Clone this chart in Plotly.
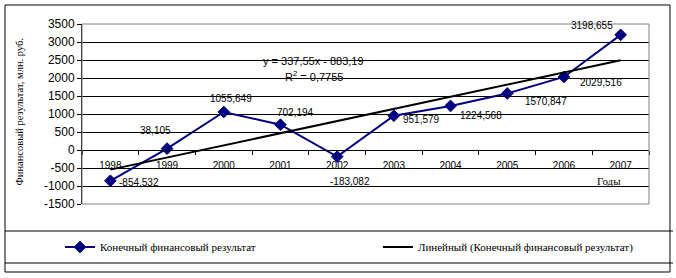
import numpy as np
import plotly.graph_objects as go

years = ["1998", "1999", "2000", "2001", "2002", "2003", "2004", "2005", "2006", "2007"]
result = [-854.532, 38.105, 1055.649, 702.194, -183.082, 951.579, 1224.568, 1570.847, 2029.516, 3198.655]
y_tick_vals = [-1500, -1000, -500, 0, 500, 1000, 1500, 2000, 2500, 3000, 3500]
y_tick_text = ["-1500", "-1000", "-500", "0", "500", "1000", "1500", "2000", "2500", "3000", "3500"]
series_name = "Конечный финансовый результат"
trend_name = "Линейный (Конечный финансовый результат)"
y_title = "Финансовый результат, млн. руб."
x_title = "Годы"

# label offsets (px) relative to each marker: (dx right, dy up)
label_offsets = [(29, -2), (-12, 18), (7, 14), (15, 12), (13, -25),
                 (28, -4), (30, -10), (39, -8), (37, -6), (-29, 9)]

# category positions 1..n
xi = np.arange(1, len(result) + 1)
# Linear trend (least squares, as the chart's trendline)
slope, intercept = np.polyfit(xi, result, 1)
trend = slope * xi + intercept
ss_res = np.sum((np.array(result) - trend) ** 2)
ss_tot = np.sum((np.array(result) - np.mean(result)) ** 2)
r2 = 1 - ss_res / ss_tot

def fmt(v, d):
    return f"{v:.{d}f}".replace(".", ",")

SANS = "Liberation Sans, Arial, sans-serif"
SERIF = "Liberation Serif, Times New Roman, serif"
NAVY = "#000080"

fig = go.Figure()
fig.add_trace(go.Scatter(
    x=xi, y=result, mode="lines+markers", name=series_name,
    line=dict(color=NAVY, width=2),
    marker=dict(symbol="diamond", size=9, color=NAVY, line=dict(color=NAVY, width=1)),
    legend="legend",
))
fig.add_trace(go.Scatter(
    x=xi, y=trend, mode="lines", name=trend_name,
    line=dict(color="#000000", width=2),
    legend="legend2",
))

annotations = []
for x, v, (dx, dy) in zip(xi, result, label_offsets):
    annotations.append(dict(
        x=int(x), y=v, xref="x", yref="y", text=fmt(v, 3), showarrow=False,
        xshift=dx, yshift=dy, font=dict(family=SANS, size=10, color="#000000"),
    ))

sign = "-" if intercept < 0 else "+"
annotations.append(dict(
    x=0.409, y=0.839, xref="paper", yref="paper", showarrow=False,
    text=f"y = {fmt(slope, 2)}x {sign} {fmt(abs(intercept), 2)}",
    font=dict(family=SANS, size=11, color="#000000"),
))
annotations.append(dict(
    x=0.409, y=0.761, xref="paper", yref="paper", showarrow=False,
    text=f"R<sup>2</sup> = {fmt(r2, 4)}",
    font=dict(family=SANS, size=11, color="#000000"),
))
annotations.append(dict(
    x=0.954, y=0.085, xref="paper", yref="paper", showarrow=False,
    text=x_title, font=dict(family=SERIF, size=11, color="#000000"),
))
annotations.append(dict(
    x=-0.1235, y=0.511, xref="paper", yref="paper", showarrow=False,
    text=y_title, textangle=-90, font=dict(family=SERIF, size=10.5, color="#000000"),
))

shapes = [
    dict(type="rect", xref="paper", yref="paper", x0=0, x1=1, y0=0, y1=1,
         line=dict(color="#808080", width=1), layer="above"),
    dict(type="rect", xref="paper", yref="paper", x0=-0.1358, x1=1.037, y0=-0.3778, y1=1.1056,
         line=dict(color="#000000", width=1)),
    dict(type="line", xref="paper", yref="paper", x0=-0.1358, x1=1.0423, y0=-0.15, y1=-0.15,
         line=dict(color="#000000", width=1)),
    dict(type="line", xref="paper", yref="paper", x0=-0.1358, x1=1.0423, y0=-0.3278, y1=-0.3278,
         line=dict(color="#000000", width=1)),
]

fig.update_layout(
    width=676, height=278,
    margin=dict(l=82, r=27, t=24, b=74),
    paper_bgcolor="#ffffff", plot_bgcolor="#ffffff",
    showlegend=True,
    legend=dict(x=-0.0388, y=-0.239, xanchor="left", yanchor="middle", orientation="h",
                bgcolor="rgba(0,0,0,0)", font=dict(family=SERIF, size=11, color="#000000")),
    legend2=dict(x=0.522, y=-0.239, xanchor="left", yanchor="middle", orientation="h",
                 bgcolor="rgba(0,0,0,0)", font=dict(family=SERIF, size=11, color="#000000")),
    annotations=annotations,
    shapes=shapes,
)
fig.update_xaxes(
    type="linear", range=[0.5, len(years) + 0.5], anchor="free", position=0.3,
    tickmode="array", tickvals=xi, ticktext=years, ticks="", ticklabelstandoff=6,
    minor=dict(ticks="outside", ticklen=4, tickcolor="#000000", tick0=0.5, dtick=1, showgrid=False),
    showline=True, linecolor="#000000", linewidth=1,
    showgrid=False, zeroline=False,
    tickfont=dict(family=SANS, size=10, color="#000000"),
)
fig.update_yaxes(
    range=[-1500, 3500], tickvals=y_tick_vals, ticktext=y_tick_text,
    showline=True, linecolor="#000000", linewidth=1,
    ticks="outside", ticklen=4, tickcolor="#000000",
    showgrid=True, gridcolor="#000000", gridwidth=1,
    zeroline=True, zerolinecolor="#000000", zerolinewidth=1,
    tickfont=dict(family=SANS, size=12, color="#000000"),
)

fig.write_html("out.html")
